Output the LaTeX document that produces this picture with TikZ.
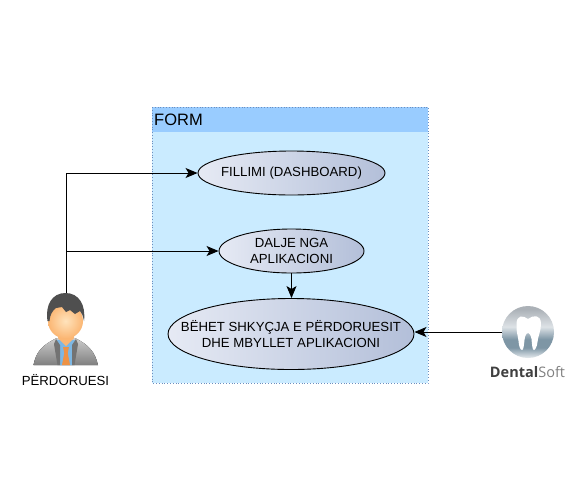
\documentclass[tikz,border=0pt]{standalone}
\usepackage{fontspec}
\setmainfont{Liberation Sans}
\newfontfamily\logofont{Open Sans}
\usetikzlibrary{arrows.meta,shapes.geometric}
\definecolor{formfill}{HTML}{CAEBFF}
\definecolor{formhead}{HTML}{99CCFF}
\definecolor{formline}{HTML}{6C8EBF}
\definecolor{caseleft}{HTML}{E6EAF4}
\definecolor{caseright}{HTML}{B3BFD9}
\definecolor{skinlight}{HTML}{FFE3BC}
\definecolor{skindark}{HTML}{FBB673}
\definecolor{tiecolor}{HTML}{EE9245}
\definecolor{shirtcolor}{HTML}{7DB7E3}
\definecolor{haircolor}{HTML}{4F4F4F}
\definecolor{logotop}{HTML}{ABB1B7}
\definecolor{logomid}{HTML}{DDE2E6}
\definecolor{logodark}{HTML}{7E96A5}
\definecolor{logolow}{HTML}{E6EBEE}
\pgfdeclareverticalshading{logoshade}{100bp}{color(0bp)=(logolow); color(25bp)=(logolow); color(35bp)=(logodark); color(43bp)=(logodark); color(55bp)=(logomid); color(72bp)=(logotop); color(100bp)=(logotop)}
\tikzset{
  usecase/.style={draw=black,line width=0.9pt,ellipse,left color=caseleft,right color=caseright,inner xsep=-30pt,inner ysep=0pt,align=center,font=\fontsize{13.2}{16.5}\selectfont},
  flow/.style={draw=black,line width=1pt,-{Stealth[length=12pt,width=10pt,inset=3pt]}},
}
\begin{document}
\begin{tikzpicture}[x=1pt,y=-1pt]
  \useasboundingbox (0,0) rectangle (585,499);
  \fill[white] (0,0) rectangle (585,499);

  % Form frame
  \fill[formfill] (152,107) rectangle (428,383);
  \fill[formhead] (152,107) rectangle (428,132);
  \draw[formline,dotted,line width=0.8pt] (152,107) rectangle (428,383);
  \node[anchor=west,inner sep=0pt,font=\fontsize{16.5}{18}\selectfont] (formtitle) at (154,120) {FORM};

  % Use cases
  \node[usecase,minimum width=187pt,minimum height=44pt] (fillimi) at (291.5,173) {FILLIMI (DASHBOARD)};
  \node[usecase,minimum width=145pt,minimum height=44pt] (dalje) at (291.5,251) {DALJE NGA\\APLIKACIONI};
  \node[usecase,minimum width=246pt,minimum height=71pt] (shkyqja) at (291,334) {B\"EHET SHKY\c{C}JA E P\"ERDORUESIT\\DHE MBYLLET APLIKACIONI};

  % Person icon
  \node[inner sep=0pt,minimum width=66pt,minimum height=72pt] (perdoruesi) at (66,329) {};
  \fill[top color=black!20,bottom color=black!50] (33.5,365) .. controls (36,352) and (42,345) .. (57,338) -- (75,338) .. controls (89,345) and (95,352) .. (98,365) -- cycle;
  \fill[shirtcolor] (56,340) -- (76,340) -- (73,365) -- (60,365) -- cycle;
  \fill[black!55] (56,339) -- (60,345) -- (60,365) -- (57.5,365) -- (54,344) -- cycle;
  \fill[black!55] (76,339) -- (72,345) -- (72,365) -- (74.5,365) -- (78,344) -- cycle;
  \fill[tiecolor] (63,347) -- (69,347) -- (67.7,353) -- (70,365) -- (62,365) -- (64.3,353) -- cycle;
  \fill[skindark] (58,328) -- (74,328) -- (74,338) -- (66,346) -- (58,338) -- cycle;
  \shade[inner color=skinlight,outer color=skindark] (65.5,321) ellipse (17.5pt and 17.5pt);
  \fill[haircolor] (47.5,321) .. controls (45,305) and (52,293) .. (65.5,293) .. controls (79,293) and (86,305) .. (84,321) .. controls (83,316) and (82,313) .. (80,311) -- (75,314) -- (70,310) -- (66,312) -- (62,307) -- (56,308) .. controls (52,311) and (50,315) .. (49.5,321) -- cycle;
  \node[inner sep=0pt,font=\fontsize{13.2}{15}\selectfont] (perdoruesilabel) at (65.5,380) {P\"ERDORUESI};

  % DentalSoft logo
  \node[circle,inner sep=0pt,minimum size=52pt] (dentalsoft) at (528,332) {};
  \shade[shading=logoshade] (528,332) circle (26pt);
  \fill[white] (528,319) .. controls (533,315) and (541,314) .. (541,324) .. controls (541,331) and (538,336) .. (537.5,342) .. controls (537,347) and (535,350) .. (534,350) .. controls (532,350) and (532,343) .. (531.5,339) .. controls (531,335) and (529,333) .. (528.5,333) .. controls (526,333) and (525,336) .. (524.5,340) .. controls (524,345) and (523.5,350) .. (522,350) .. controls (520,350) and (519,346) .. (518.5,341) .. controls (518,336) and (516,331) .. (516.5,324) .. controls (516.5,315) and (523,315) .. (528,319) -- cycle;
  \node[inner sep=0pt,font=\logofont\fontsize{14.5}{16}\selectfont,text=black!75] (logolabel) at (527.5,372) {\textbf{Dental}\textcolor{black!50}{Soft}};

  % Connectors
  \coordinate (branch) at (perdoruesi.north |- dalje.west);
  \draw[flow] (perdoruesi.north) |- (fillimi.west);
  \draw[flow] (branch) -- (dalje.west);
  \draw[flow] (dalje.south) -- (dalje.south |- shkyqja.north);
  \draw[flow] (dentalsoft.west) -- (dentalsoft.west -| shkyqja.east);
\end{tikzpicture}
\end{document}
